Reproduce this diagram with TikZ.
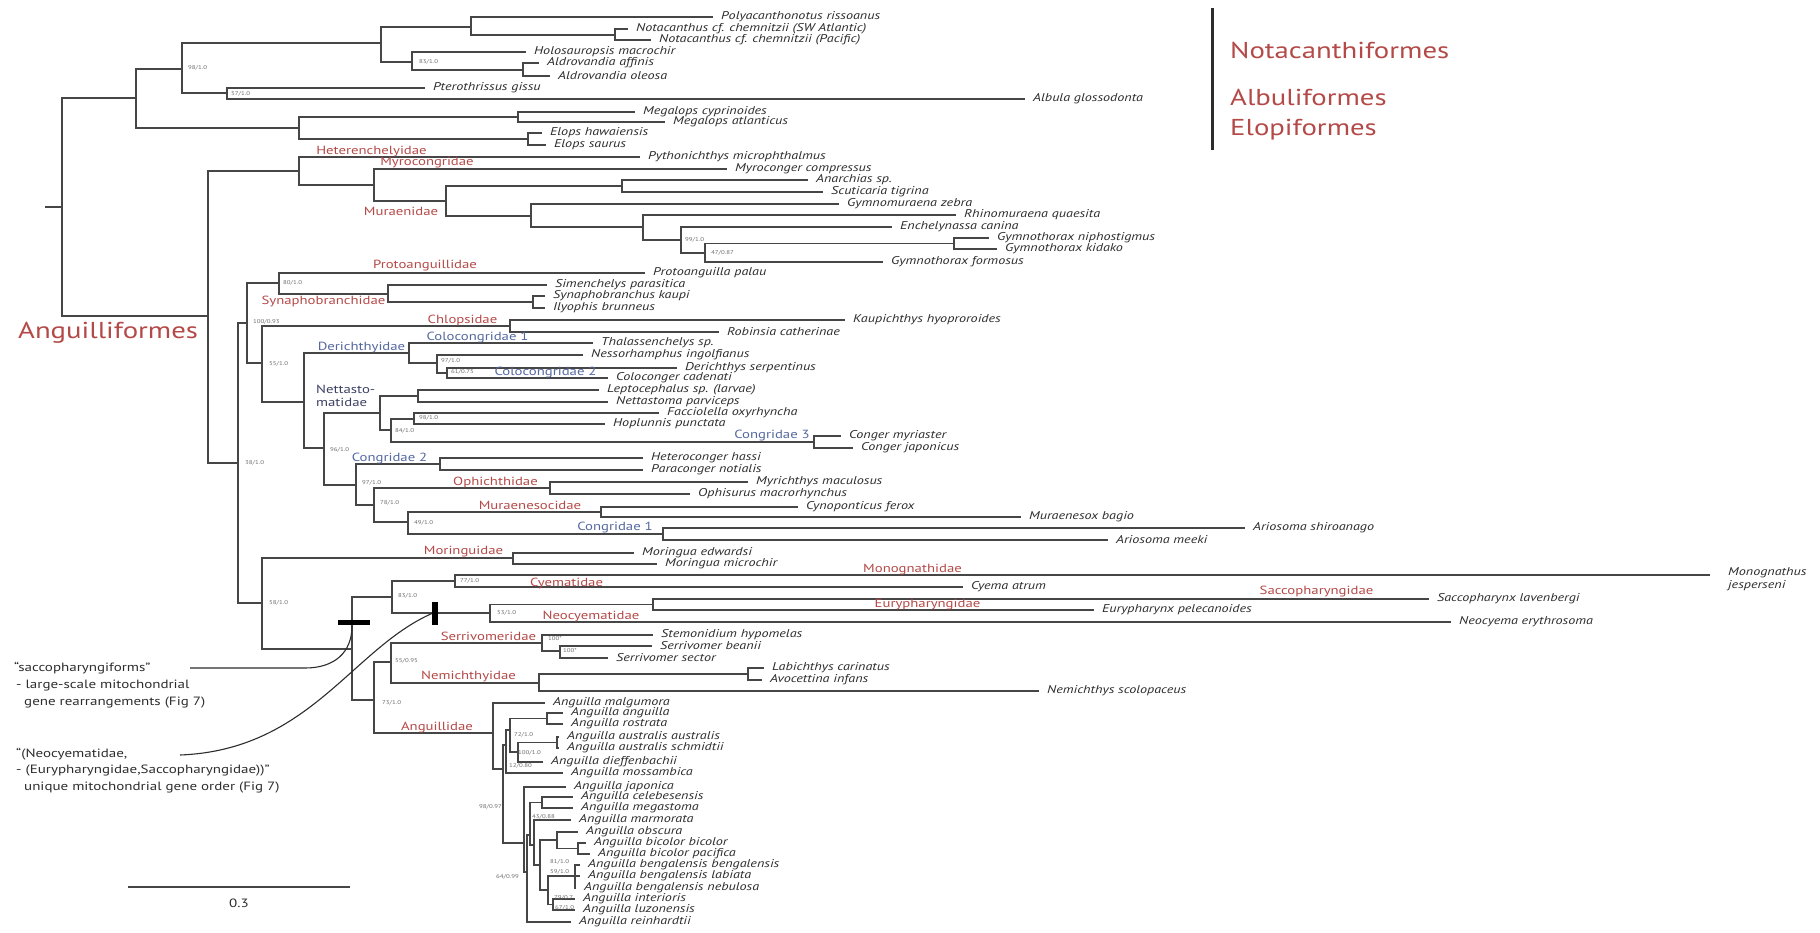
\documentclass[tikz,border=0pt]{standalone}
\usepackage{fontspec}
\setmainfont{PT Sans}[FakeStretch=1.25]
\usetikzlibrary{calc}
\definecolor{cred}{RGB}{180,74,72}
\definecolor{cblue}{RGB}{84,104,160}
\definecolor{cnet}{RGB}{60,65,100}
\definecolor{cline}{RGB}{70,70,70}
\definecolor{ctext}{RGB}{45,45,45}
\definecolor{csup}{RGB}{110,110,110}
\newcommand{\mynd}[3]{\coordinate (#1) at (#2,#3);}
\newcommand{\mytip}[4]{\coordinate (#1) at (#2,#3); \node[sp] (#1-t) at (#1) {#4};}
\begin{document}
\begin{tikzpicture}[x=1pt,y=-1pt,
  br/.style={draw=cline, line width=1.3pt},
  sp/.style={anchor=west, inner sep=0pt, xshift=8pt, font=\fontsize{11.3}{12}\selectfont\itshape, text=ctext},
  fam/.style={inner sep=0pt, font=\fontsize{11.8}{13}\selectfont, text=cred},
  famb/.style={fam, text=cblue},
  sup/.style={anchor=west, inner sep=0pt, font=\fontsize{5.5}{6}\selectfont, text=csup},
  big/.style={anchor=west, inner sep=0pt, font=\fontsize{23}{26}\selectfont, text=cred},
  ann/.style={anchor=west, inner sep=0pt, font=\fontsize{12}{14}\selectfont, text=ctext},
  annline/.style={draw=ctext, line width=1.1pt},
]
\fill[white] (0,0) rectangle (1820,932);
\useasboundingbox (0,0) rectangle (1820,932);

% ---------- internal nodes ----------
\coordinate (root) at (45,207);
\mynd{A}{62}{207}\mynd{B}{136}{98}\mynd{C}{182}{69}\mynd{D}{381}{43}
\mynd{E}{471}{27}\mynd{F}{615}{35}\mynd{G}{412}{62}\mynd{H}{523}{70}
\mynd{I}{227}{93}\mynd{J}{299}{128}\mynd{K}{518}{117}\mynd{L}{528}{139}
\mynd{M}{208}{316}\mynd{N}{299}{171}\mynd{O}{374}{185}\mynd{P}{446}{201}
\mynd{Q}{622}{186}\mynd{R}{531}{216}\mynd{S}{643}{227}\mynd{T}{681}{240}
\mynd{U}{705}{253}\mynd{V}{954}{243.5}
\mynd{W}{238}{463}\mynd{X}{247}{323}\mynd{Y}{279}{283}\mynd{Z}{388}{294}
\mynd{AA}{533}{302}\mynd{AB}{262}{363}\mynd{AC}{510}{326}\mynd{AD}{304}{402}
\mynd{AE}{409}{353}\mynd{AF}{437}{363}\mynd{AG}{447}{373}\mynd{AH}{324}{448}
\mynd{AI}{380}{413}\mynd{AJ}{418}{396}\mynd{AK}{391}{430}\mynd{AL}{414}{419}
\mynd{AM}{814}{442}\mynd{AN}{356}{485}\mynd{AO}{440}{464}\mynd{AP}{374}{505}
\mynd{AQ}{550}{488}\mynd{AR}{408}{522}\mynd{AS}{601}{512}\mynd{AT}{663}{534}
\mynd{AU}{262}{603}\mynd{AV}{513}{558}\mynd{AW}{352}{649}\mynd{AX}{392}{597}
\mynd{AY}{455}{581}\mynd{AZ}{490}{613}\mynd{BA}{653}{604.5}\mynd{BB}{374}{700}
\mynd{BC}{391}{662}\mynd{BD}{542}{643}\mynd{BE}{560}{651}\mynd{BF}{539}{683}
\mynd{BG}{748}{674}\mynd{BH}{493}{733}\mynd{BI}{503}{769}
\mynd{G1}{506}{745}\mynd{G1a}{510}{730}\mynd{AR2}{547}{718.5}\mynd{AD2}{518}{752}
\mynd{AUS}{557}{742.5}\mynd{G2}{524}{843}\mynd{G3}{527}{872}\mynd{G4}{530}{835}
\mynd{CM}{542}{802.5}\mynd{G5}{534}{845}\mynd{G6}{540}{865}\mynd{OB}{557}{840}
\mynd{BIC}{578}{848.5}\mynd{G7}{548}{890}\mynd{BEN}{575}{876}\mynd{IL}{553}{904.5}

% ---------- tips ----------
\mytip{poly}{713}{17}{Polyacanthonotus rissoanus}
\mytip{notsw}{628}{29}{Notacanthus cf. chemnitzii (SW Atlantic)}
\mytip{notpa}{651}{40}{Notacanthus cf. chemnitzii (Pacific)}
\mytip{holo}{526}{52}{Holosauropsis macrochir}
\mytip{aldaf}{539}{63}{Aldrovandia affinis}
\mytip{aldol}{550}{76}{Aldrovandia oleosa}
\mytip{pter}{425}{88}{Pterothrissus gissu}
\mytip{albu}{1025}{99}{Albula glossodonta}
\mytip{megcy}{635}{112}{Megalops cyprinoides}
\mytip{megat}{665}{122}{Megalops atlanticus}
\mytip{elha}{542}{133}{Elops hawaiensis}
\mytip{elsa}{546}{145}{Elops saurus}
\mytip{pyth}{640}{157}{Pythonichthys microphthalmus}
\mytip{myro}{727}{169}{Myroconger compressus}
\mytip{anar}{808}{180}{Anarchias sp.}
\mytip{scut}{823}{192}{Scuticaria tigrina}
\mytip{gymze}{839}{204}{Gymnomuraena zebra}
\mytip{rhin}{956}{215}{Rhinomuraena quaesita}
\mytip{ench}{892}{227}{Enchelynassa canina}
\mytip{gniph}{989}{238}{Gymnothorax niphostigmus}
\mytip{gkid}{997}{249}{Gymnothorax kidako}
\mytip{gform}{883}{262}{Gymnothorax formosus}
\mytip{proto}{645}{273}{Protoanguilla palau}
\mytip{sime}{547}{285}{Simenchelys parasitica}
\mytip{syka}{545}{296}{Synaphobranchus kaupi}
\mytip{ilyo}{545}{308}{Ilyophis brunneus}
\mytip{kaup}{845}{320}{Kaupichthys hyoproroides}
\mytip{robi}{719}{332}{Robinsia catherinae}
\mytip{thal}{593}{343}{Thalassenchelys sp.}
\mytip{ness}{583}{355}{Nessorhamphus ingolfianus}
\mytip{deri}{677}{368}{Derichthys serpentinus}
\mytip{colo}{608}{378}{Coloconger cadenati}
\mytip{lept}{599}{390}{Leptocephalus sp. (larvae)}
\mytip{netta}{608}{402}{Nettastoma parviceps}
\mytip{facc}{659}{413}{Facciolella oxyrhyncha}
\mytip{hopl}{605}{424}{Hoplunnis punctata}
\mytip{conmy}{841}{436}{Conger myriaster}
\mytip{conja}{853}{448}{Conger japonicus}
\mytip{hete}{643}{458}{Heteroconger hassi}
\mytip{para}{643}{470}{Paraconger notialis}
\mytip{myri}{748}{482}{Myrichthys maculosus}
\mytip{ophi}{690}{494}{Ophisurus macrorhynchus}
\mytip{cyno}{798}{507}{Cynoponticus ferox}
\mytip{mubag}{1021}{517}{Muraenesox bagio}
\mytip{arshi}{1245}{528}{Ariosoma shiroanago}
\mytip{armee}{1108}{540}{Ariosoma meeki}
\mytip{moed}{634}{553}{Moringua edwardsi}
\mytip{momi}{657}{564}{Moringua microchir}
\coordinate (mono) at (1710,575);
\node[sp, anchor=north west, xshift=0pt, align=left, font=\fontsize{11.3}{13}\selectfont\itshape] (mono-t) at (1720,567) {Monognathus\\jesperseni};
\mytip{cyema}{963}{587}{Cyema atrum}
\mytip{sacco}{1429}{599}{Saccopharynx lavenbergi}
\mytip{eury}{1094}{610}{Eurypharynx pelecanoides}
\mytip{neocy}{1451}{622}{Neocyema erythrosoma}
\mytip{stem}{653}{635}{Stemonidium hypomelas}
\mytip{serbe}{652}{646}{Serrivomer beanii}
\mytip{serse}{608}{658}{Serrivomer sector}
\mytip{labi}{764}{668}{Labichthys carinatus}
\mytip{avoc}{762}{680}{Avocettina infans}
\mytip{nemi}{1039}{691}{Nemichthys scolopaceus}
\mytip{amal}{545}{703}{Anguilla malgumora}
\mytip{aang}{563}{713}{Anguilla anguilla}
\mytip{aros}{563}{724}{Anguilla rostrata}
\mytip{aaus}{559}{737}{Anguilla australis australis}
\mytip{asch}{559}{748}{Anguilla australis schmidtii}
\mytip{adie}{543}{762}{Anguilla dieffenbachii}
\mytip{amos}{563}{773}{Anguilla mossambica}
\mytip{ajap}{566}{787}{Anguilla japonica}
\mytip{acel}{573}{797}{Anguilla celebesensis}
\mytip{ameg}{573}{808}{Anguilla megastoma}
\mytip{amar}{571}{820}{Anguilla marmorata}
\mytip{aobs}{578}{832}{Anguilla obscura}
\mytip{abib}{586}{843}{Anguilla bicolor bicolor}
\mytip{abip}{590}{854}{Anguilla bicolor pacifica}
\mytip{abeb}{580}{865}{Anguilla bengalensis bengalensis}
\mytip{abel}{580}{876}{Anguilla bengalensis labiata}
\mytip{aben}{576}{888}{Anguilla bengalensis nebulosa}
\mytip{aint}{575}{899}{Anguilla interioris}
\mytip{aluz}{575}{910}{Anguilla luzonensis}
\mytip{arei}{571}{922}{Anguilla reinhardtii}

% ---------- branches ----------
\draw[br] (root) -- (A);
\foreach \p/\c in {A/B,A/M,B/C,B/J,C/D,C/I,D/E,D/G,E/poly,E/F,F/notsw,F/notpa,
  G/holo,G/H,H/aldaf,H/aldol,I/pter,I/albu,J/K,J/L,K/megcy,K/megat,L/elha,L/elsa,
  M/N,M/W,N/pyth,N/O,O/myro,O/P,P/Q,P/R,Q/anar,Q/scut,R/gymze,R/S,S/rhin,S/T,
  T/ench,T/U,U/V,U/gform,V/gniph,V/gkid,
  W/X,W/AU,X/Y,X/AB,Y/proto,Y/Z,Z/sime,Z/AA,AA/syka,AA/ilyo,AB/AC,AB/AD,
  AC/kaup,AC/robi,AD/AE,AD/AH,AE/thal,AE/AF,AF/ness,AF/AG,AG/deri,AG/colo,
  AH/AI,AH/AN,AI/AJ,AI/AK,AJ/lept,AJ/netta,AK/AL,AK/AM,AL/facc,AL/hopl,
  AM/conmy,AM/conja,AN/AO,AN/AP,AO/hete,AO/para,AP/AQ,AP/AR,AQ/myri,AQ/ophi,
  AR/AS,AR/AT,AS/cyno,AS/mubag,AT/arshi,AT/armee,
  AU/AV,AU/AW,AV/moed,AV/momi,AW/AX,AW/BB,AX/AY,AX/AZ,AY/mono,AY/cyema,
  AZ/BA,AZ/neocy,BA/sacco,BA/eury,BB/BC,BB/BH,BC/BD,BC/BF,BD/stem,BD/BE,
  BE/serbe,BE/serse,BF/BG,BF/nemi,BG/labi,BG/avoc,
  BH/amal,BH/BI,BI/G1,BI/G2,G1/G1a,G1/amos,G1a/AR2,G1a/AD2,AR2/aang,AR2/aros,
  AD2/AUS,AD2/adie,AUS/aaus,AUS/asch,G2/ajap,G2/G3,G3/G4,G3/arei,G4/CM,G4/G5,
  CM/acel,CM/ameg,G5/amar,G5/G6,G6/OB,G6/G7,OB/aobs,OB/BIC,BIC/abib,BIC/abip,
  G7/BEN,G7/IL,BEN/abeb,BEN/abel,BEN/aben,IL/aint,IL/aluz}
  {\draw[br] (\p) |- (\c);}

% ---------- support values ----------
\node[sup] (s1) at (188,68) {98/1.0};
\node[sup] (s2) at (419,62) {83/1.0};
\node[sup] (s3) at (231,94) {57/1.0};
\node[sup] (s4) at (685,240) {99/1.0};
\node[sup] (s5) at (711,253) {47/0.87};
\node[sup] (s6) at (245,463) {38/1.0};
\node[sup] (s7) at (253,322) {100/0.93};
\node[sup] (s8) at (283,283) {80/1.0};
\node[sup] (s9) at (269,364) {55/1.0};
\node[sup] (s10) at (441,361) {97/1.0};
\node[sup] (s11) at (451,372) {61/0.75};
\node[sup] (s12) at (330,450) {96/1.0};
\node[sup] (s13) at (395,431) {84/1.0};
\node[sup] (s14) at (419,418) {98/1.0};
\node[sup] (s15) at (362,483) {97/1.0};
\node[sup] (s16) at (380,503) {78/1.0};
\node[sup] (s17) at (414,523) {49/1.0};
\node[sup] (s18) at (269,603) {58/1.0};
\node[sup] (s19) at (398,596) {83/1.0};
\node[sup] (s20) at (460,581) {77/1.0};
\node[sup] (s21) at (497,613) {53/1.0};
\node[sup] (s22) at (382,703) {73/1.0};
\node[sup] (s23) at (395,661) {55/0.95};
\node[sup] (s24) at (548,639) {100*};
\node[sup] (s25) at (563,651) {100*};
\node[sup] (s26) at (514,735) {72/1.0};
\node[sup] (s27) at (518,753) {100/1.0};
\node[sup] (s28) at (509,766) {12/0.80};
\node[sup] (s29) at (479,807) {98/0.97};
\node[sup] (s30) at (532,817) {43/0.88};
\node[sup] (s31) at (550,862) {81/1.0};
\node[sup] (s32) at (550,872) {59/1.0};
\node[sup] (s33) at (554,898) {79/0.7};
\node[sup] (s34) at (555,908) {67/1.0};
\node[sup] (s35) at (496,877) {64/0.99};

% ---------- family labels ----------
\node[fam] (f1) at (371.5,152) {Heterenchelyidae};
\node[fam] (f2) at (427,163) {Myrocongridae};
\node[fam] (f3) at (401,211) {Muraenidae};
\node[fam] (f4) at (425,266) {Protoanguillidae};
\node[fam] (f5) at (323.5,302) {Synaphobranchidae};
\node[fam] (f6) at (462.5,320) {Chlopsidae};
\node[fam] (f7) at (495.5,482) {Ophichthidae};
\node[fam] (f8) at (530,505) {Muraenesocidae};
\node[fam] (f9) at (463.5,552) {Moringuidae};
\node[fam] (f10) at (912.5,570) {Monognathidae};
\node[fam] (f11) at (566.5,583) {Cyematidae};
\node[fam] (f12) at (1316.5,592) {Saccopharyngidae};
\node[fam] (f13) at (927.5,605) {Eurypharyngidae};
\node[fam] (f14) at (591,617) {Neocyematidae};
\node[fam] (f15) at (488.5,636) {Serrivomeridae};
\node[fam] (f16) at (468.5,677) {Nemichthyidae};
\node[fam] (f17) at (437,728) {Anguillidae};
\node[famb] (b1) at (361.5,348) {Derichthyidae};
\node[famb] (b2) at (477.5,338) {Colocongridae 1};
\node[famb] (b3) at (545.5,373) {Colocongridae 2};
\node[famb] (b4) at (772,436) {Congridae 3};
\node[famb] (b5) at (389.5,459) {Congridae 2};
\node[famb] (b6) at (615,528) {Congridae 1};
\node[fam, text=cnet, anchor=west, align=left, font=\fontsize{11.8}{13}\selectfont] (nett) at (316,395.5) {Nettasto-\\matidae};

% ---------- order labels ----------
\node[big] (o1) at (18,333) {Anguilliformes};
\node[big] (o2) at (1230,50) {Notacanthiformes};
\node[big] (o3) at (1230,97) {Albuliformes};
\node[big] (o4) at (1230,130) {Elopiformes};
\coordinate (tb1) at (1212,8);
\coordinate (tb2) at (1212,150);
\draw[draw=ctext, line width=3pt] (tb1) -- (tb2);

% ---------- annotations ----------
\node[ann] (a1) at (14,668) {“saccopharyngiforms”};
\node[ann] (a2) at (16,686) {- large-scale mitochondrial};
\node[ann] (a3) at (24,703) {gene rearrangements (Fig 7)};
\node[ann] (a4) at (16,754) {“(Neocyematidae,};
\node[ann] (a5) at (16,771) {- (Eurypharyngidae,Saccopharyngidae))”};
\node[ann] (a6) at (24,788) {unique mitochondrial gene order (Fig 7)};

\coordinate (c1a) at (190,668);
\coordinate (c1b) at (305,668);
\coordinate (c1c) at (352,626);
\draw[annline] (c1a) -- (c1b) .. controls (335,668) and (352,652) .. (c1c);
\coordinate (c2a) at (180,755);
\coordinate (c2b) at (433,613);
\draw[annline] (c2a) .. controls (310,750) and (352,648) .. (c2b);

\coordinate (bar1a) at (338,622);
\coordinate (bar1b) at (370,622);
\draw[black, line width=5pt] (bar1a) -- (bar1b);
\coordinate (bar2a) at (435,602);
\coordinate (bar2b) at (435,625);
\draw[black, line width=6pt] (bar2a) -- (bar2b);

% ---------- scale bar ----------
\coordinate (sb1) at (128,887);
\coordinate (sb2) at (350,887);
\draw[br] (sb1) -- (sb2);
\node[ann, anchor=center] (sbl) at (239,903) {0.3};
\end{tikzpicture}
\end{document}
